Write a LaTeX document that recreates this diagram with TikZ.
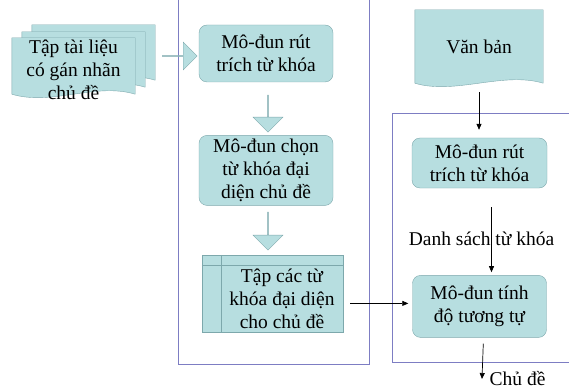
\documentclass[tikz,border=0pt]{standalone}
\usepackage{fontspec}
\setmainfont{Liberation Serif}
\newfontfamily\vnserif{Liberation Serif}
\usepackage{tikz}
\usetikzlibrary{arrows.meta,positioning,calc,shapes.arrows,backgrounds}

\definecolor{boxfill}{RGB}{183,222,224}
\definecolor{boxdraw}{RGB}{125,168,172}
\definecolor{framecol}{RGB}{125,125,195}

% document outline with a wavy lower edge, drawn round a node
% #2: how far the wave ends sit above the node's south side
\newcommand{\docshape}[2]{%
  \draw[docline] ($(#1.south west)+(0,-#2)$) -- (#1.north west) -- (#1.north east) -- ($(#1.south east)+(0,-#2)$)
    .. controls ($(#1.south east)+(-40,-12-#2)$) and ($(#1.south west)+(40,12-#2)$) .. ($(#1.south west)+(0,-#2)$) -- cycle;}

\begin{document}
\begin{tikzpicture}[
    x=1pt, y=-1pt,
    font=\vnserif\fontsize{19.5}{23}\selectfont,
    box/.style={draw=boxdraw, fill=boxfill, rounded corners=8pt, align=center,
      minimum width=134pt, inner sep=0pt},
    docbox/.style={minimum width=123pt, minimum height=55pt, align=center, inner sep=0pt},
    docline/.style={draw=boxdraw, fill=boxfill},
    blockarr/.style={single arrow, draw=boxdraw, fill=boxfill, inner sep=0pt,
      single arrow head extend=7.5pt, minimum width=30pt},
    conn/.style={-{Triangle[length=6pt,width=5pt]}, line width=0.7pt},
    frameline/.style={draw=framecol, line width=1pt}
  ]
  \useasboundingbox (0,0) rectangle (569,390);

  % left part: training
  \node[docbox] (doc3) at (93.5,52.5) {};
  \node[docbox] (doc2) at (83.5,59.5) {};
  \node[docbox, minimum height=64pt] (tailieu) at (73.5,70) {Tập tài liệu\\có gán nhãn\\chủ đề};
  \node[blockarr, minimum height=35pt, minimum width=28pt, single arrow head extend=6.5pt] (a0) at (179.5,56) {};
  \node[box, minimum height=57pt] (m1) at (266,53.5) {Mô-đun rút\\trích từ khóa};
  \node[blockarr, minimum height=37pt, shape border rotate=270] (a1) at (268,113.5) {};
  \node[box, minimum height=70pt, below=53pt of m1] (m2) {Mô-đun chọn\\từ khóa đại\\diện chủ đề};
  \node[blockarr, minimum height=38pt, shape border rotate=270] (a2) at (268,231) {};
  \node[minimum width=122pt, minimum height=67pt, inner sep=0pt, align=center] (store) at (282,298.5)
    {Tập các từ\\khóa đại diện\\cho chủ đề};

  % right part: classifying
  \node[docbox, minimum width=128pt, minimum height=73pt] (vb) at (479,46.5) {Văn bản};
  \node[box, minimum width=135pt, minimum height=50pt] (r1) at (479.5,163) {Mô-đun rút\\trích từ khóa};
  \node[box, minimum height=62pt, below=87pt of r1] (r2) {Mô-đun tính\\độ tương tự};
  \coordinate (out) at (482,379);

  \draw[conn, shorten <=9pt, shorten >=8pt] (vb.south) -- (vb.south |- r1.north);
  \draw[conn, shorten <=19pt, shorten >=3pt] ([xshift=12pt]r1.south) -- ([xshift=12pt]r1.south |- r2.north)
    node[pos=0.58, xshift=-10pt] (dsach) {Danh sách từ khóa};
  \draw[conn, shorten <=7pt, shorten >=4pt] ([yshift=3pt]r2.west -| store.east) -- ([yshift=3pt]r2.west);
  \draw[conn, shorten <=6pt] ([xshift=4pt]r2.south) -- (out) node[right=4pt] (chude) {Chủ đề};

  \begin{scope}[on background layer]
    \draw[frameline] (178,-5) -- (178,364) -- (369,364) -- (369,-5);
    \draw[frameline] (575,114) -- (392,114) -- (392,362) -- (575,362);
    \docshape{doc3}{0}
    \docshape{doc2}{0}
    \docshape{tailieu}{8}
    \docshape{vb}{0}
    \draw[docline] ($(store.north west)+(-19,-10)$) rectangle (store.south east);
    \draw[draw=boxdraw] ($(store.north west)+(-19,0)$) -- (store.north east);
    \draw[draw=boxdraw] ($(store.north west)+(0,-10)$) -- (store.south west);
  \end{scope}
\end{tikzpicture}
\end{document}
